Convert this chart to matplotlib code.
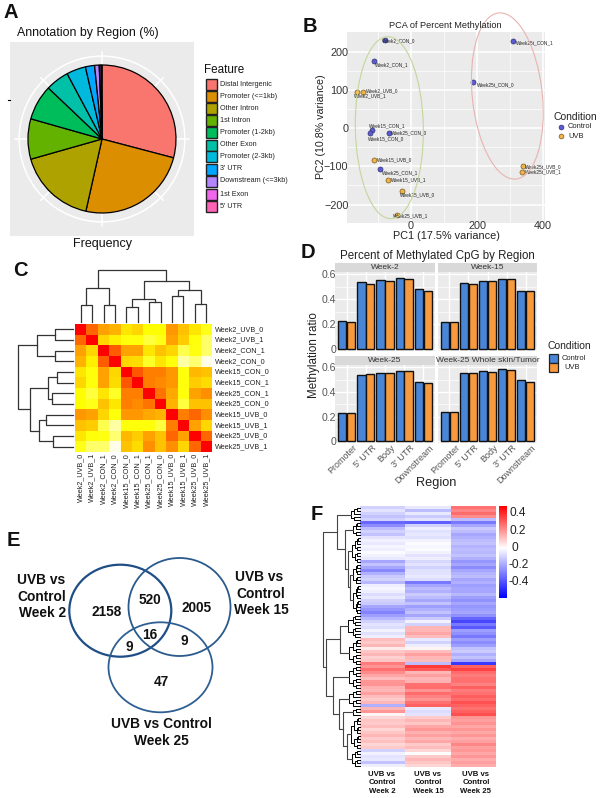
import numpy as np
import matplotlib
matplotlib.use("Agg")
import matplotlib.pyplot as plt
from matplotlib.colors import LinearSegmentedColormap, TwoSlopeNorm
from matplotlib.patches import Ellipse, Rectangle, Circle
from matplotlib.transforms import ScaledTranslation

plt.rcParams['font.family'] = ['Liberation Sans', 'DejaVu Sans']

# ---------------- data ----------------
pie_features = ["Distal Intergenic", "Promoter (<=1kb)", "Other Intron", "1st Intron", "Promoter (1-2kb)",
                "Other Exon", "Promoter (2-3kb)", "3' UTR", "Downstream (<=3kb)", "1st Exon", "5' UTR"]
pie_values = [29.1, 24.4, 17.1, 8.8, 7.7, 5.1, 4.2, 2.0, 1.0, 0.4, 0.2]
pie_colors = ["#F8766D", "#DB8E00", "#AEA200", "#64B200", "#00BD5C", "#00C1A7", "#00BADE", "#00A6FF",
              "#B385FF", "#EF67EB", "#FF63B6"]

pca_control = ["Week2_CON_0", "Week2_CON_1", "Week15_CON_1", "Week15_CON_0", "Week25_CON_0", "Week25_CON_1",
               "Week25t_CON_1", "Week25t_CON_0"]
pca_control_x = [-79, -112, -118, -125, -68, -95, 310, 189]
pca_control_y = [229, 174, -4, -13, -12, -108, 228, 121]
pca_uvb = ["Week2_UVB_0", "Week2_UVB_1", "Week15_UVB_0", "Week15_UVB_1", "Week25_UVB_0", "Week25_UVB_1",
           "Week25t_UVB_0", "Week25t_UVB_1"]
pca_uvb_x = [-145, -165, -111, -69, -27, -43, 339, 336]
pca_uvb_y = [93, 94, -83, -136, -164, -228, -100, -114]

corr_labels = ["Week2_UVB_0", "Week2_UVB_1", "Week2_CON_1", "Week2_CON_0", "Week15_CON_0", "Week15_CON_1",
               "Week25_CON_1", "Week25_CON_0", "Week15_UVB_0", "Week15_UVB_1", "Week25_UVB_0", "Week25_UVB_1"]
corr = [
    [1, .80, .68, .65, .55, .58, .50, .50, .70, .62, .55, .45],
    [.80, 1, .58, .53, .48, .48, .38, .45, .68, .60, .48, .30],
    [.68, .58, 1, .82, .68, .68, .55, .62, .58, .35, .47, .30],
    [.65, .53, .82, 1, .58, .57, .42, .55, .48, .18, .28, .05],
    [.55, .48, .68, .58, 1, .83, .75, .75, .70, .48, .64, .62],
    [.58, .48, .68, .57, .83, 1, .75, .73, .70, .48, .60, .57],
    [.50, .38, .55, .42, .75, .75, 1, .77, .67, .48, .68, .72],
    [.50, .45, .62, .55, .75, .73, .77, 1, .65, .38, .62, .62],
    [.70, .68, .58, .48, .70, .70, .67, .65, 1, .75, .80, .72],
    [.62, .60, .35, .18, .48, .48, .48, .38, .75, 1, .68, .58],
    [.55, .48, .47, .28, .64, .60, .68, .62, .80, .68, 1, .80],
    [.45, .30, .30, .05, .62, .57, .72, .62, .72, .58, .80, 1],
]
# merges: (left, right, height); leaves are ints
corr_tree = (((0, 1, 50), (2, 3, 50), 102),
             (((4, 5, 45), (6, 7, 60), 70), ((8, 9, 77), (10, 11, 55), 95), 122), 155)

regions = ["Promoter", "5' UTR", "Body", "3' UTR", "Downstream"]
facets = ["Week-2", "Week-15", "Week-25", "Week-25 Whole skin/Tumor"]
meth_control = [[.225, .54, .555, .57, .48], [.22, .53, .545, .56, .465],
                [.23, .54, .555, .575, .478], [.235, .555, .57, .585, .495]]
meth_uvb = [[.22, .52, .545, .56, .47], [.22, .525, .55, .565, .465],
            [.23, .545, .553, .575, .47], [.235, .555, .565, .58, .48]]

venn_counts = ["2158", "520", "2005", "16", "9", "9", "47"]

heat_w2 = [-.1, -.06, -.1, -.14, -.1, -.34, -.26, -.15, -.1, -.14, -.06, -.03, -.05, -.02, -.04, -.01, -.03, -.05,
           -.2, -.14, -.2, -.27, -.18, -.12, -.1, -.16, -.04, -.02, -.04, -.08, -.05, -.1, -.12, -.2, -.24, -.28,
           -.22, -.16, -.1, -.06, -.08, -.03, -.07, -.04, .13, .1, .14, .04, .11, .14, .09, .11, .25, .21, .27, .22,
           .17, .13, .2, .21, .15, .14, .18, .13, .1, .14, -.18, .14, .2, .02, .08, .11, .1, .13, .08, .11, .14, .1,
           .12, .08, .1, -.1, -.03, -.06, -.05, -.14, -.04]
heat_w15 = [-.05, -.15, -.05, -.12, -.06, -.36, -.1, -.04, -.07, -.05, -.07, -.03, -.01, -.02, -.01, -.03, -.06, -.04,
            -.09, -.06, -.1, -.07, -.06, -.05, -.08, -.3, -.2, -.15, -.18, -.12, -.15, -.2, -.14, -.22, -.18, -.14,
            -.2, -.12, -.03, -.1, .14, .14, .17, .13, -.05, -.1, -.04, .02, .13, .18, .14, .13, -.15, .38, .32, .14,
            .18, .14, .15, .27, .28, .21, .28, .24, .21, .27, .3, -.05, -.08, -.06, .1, .14, .11, .17, .2, .15, .18,
            .14, .17, .1, .13, .08, .0, .1, .14, .11, .08]
heat_w25 = [.27, .23, .28, .22, -.15, -.3, -.2, -.12, -.15, -.2, -.18, -.15, -.14, -.17, -.15, -.16, -.14, -.18, -.24,
            -.2, -.26, -.2, -.17, -.15, -.2, -.18, -.22, -.2, -.2, -.16, -.22, -.25, -.2, -.24, -.22, -.2, -.25, -.35,
            -.42, -.3, -.38, -.22, -.25, -.3, -.22, -.26, -.22, -.14, -.12, -.18, -.14, -.2, -.45, .3, .36, .28, .25,
            .27, .27, .24, .3, .25, .27, .31, .28, .33, .3, .27, .3, .34, .2, .18, .21, .17, .2, .17, .2, .16, .18,
            .23, .18, .2, .17, .2, .16, .18, .16]
heat_cols = ["UVB vs\nControl\nWeek 2", "UVB vs\nControl\nWeek 15", "UVB vs\nControl\nWeek 25"]
# dendrogram of rows: (distance, child, child) with (first_row, last_row, distance) as a fine cluster
row_tree = (37,
            (23, (0, 4, 9),
             (15, (5, 9, 7), (12, (10, 18, 8), (10, (19, 25, 7), (26, 35, 7))))),
            (34,
             (20, (36, 43, 12), (44, 52, 11)),
             (27, (53, 60, 11),
              (21, (61, 66, 11),
               (17, (67, 69, 7), (13, (70, 80, 9), (81, 86, 8)))))))

# ---------------- layout helpers ----------------
W, H = 600, 798
fig = plt.figure(figsize=(W / 100, H / 100), dpi=100)


def axpx(x0, y0, x1, y1, **kw):
    return fig.add_axes([x0 / W, 1 - y1 / H, (x1 - x0) / W, (y1 - y0) / H], **kw)


ov = axpx(0, 0, W, H, zorder=20)
ov.set_xlim(0, W)
ov.set_ylim(H, 0)
ov.axis('off')
ov.patch.set_alpha(0)


def T(x, y, s, size=8, ha='left', va='center', **kw):
    return ov.text(x, y, s, fontsize=size, ha=ha, va=va, **kw)


for (lx, ly, s) in [(3, 12, "A"), (303, 27, "B"), (13, 270, "C"), (301, 252, "D"), (7, 541, "E"), (311, 515, "F")]:
    T(lx, ly, s, size=14.5, fontweight='bold', color='#111111')

# ---------------- A: pie ----------------
axA = axpx(10, 42, 194, 236)
axA.set_facecolor('#EBEBEB')
for a in np.deg2rad(np.arange(0, 360, 45)):
    axA.plot([0, 1.17 * np.cos(a)], [0, 1.17 * np.sin(a)], color='white', lw=1.1, zorder=0.5)
axA.add_patch(Circle((0, 0), 1.12, fc='none', ec='white', lw=1.1, zorder=0.5))
axA.pie(pie_values, colors=pie_colors, startangle=90, counterclock=False, radius=1.0,
        wedgeprops=dict(edgecolor='black', linewidth=0.9), frame=True)
axA.set_xlim(-92 / 74, 92 / 74)
axA.set_ylim(-97 / 74, 97 / 74)
axA.set_xticks([])
axA.set_yticks([])
for s in axA.spines.values():
    s.set_visible(False)
T(17, 33, "Annotation by Region (%)", size=8.9, color='#111111')
T(102, 244, "Frequency", size=9, ha='center', color='#111111')
T(204, 70, "Feature", size=8.4, color='#111111')
ov.plot([7.5, 9.5], [100, 100], color='black', lw=0.8)
legy = [84, 96, 108.5, 120.7, 132.5, 145, 156.7, 169, 181, 194, 206]
for yy, c, s in zip(legy, pie_colors, pie_features):
    ov.add_patch(Rectangle((206, yy - 5.5), 10.5, 11, fc=c, ec='#222222', lw=1.0))
    T(220.5, yy, s, size=5.2, color='#222222')

# ---------------- B: PCA ----------------
axB = axpx(347, 32, 545, 223)
axB.set_facecolor('#EBEBEB')
axB.set_xlim(-194, 406)
axB.set_ylim(-248, 251)
axB.set_xticks([0, 200, 400])
axB.set_yticks([-200, -100, 0, 100, 200])
axB.set_xticks([-100, 100, 300], minor=True)
axB.set_yticks([-150, -50, 50, 150], minor=True)
axB.grid(True, which='major', color='white', lw=1.1)
axB.grid(True, which='minor', color='white', lw=0.5)
axB.set_axisbelow(True)
for s in axB.spines.values():
    s.set_visible(False)
axB.tick_params(which='both', length=0)
axB.tick_params(axis='both', which='major', labelsize=7.8, labelcolor='#333333')
axB.tick_params(axis='x', pad=-1.5)
axB.tick_params(axis='y', pad=-1)
axB.scatter(pca_control_x, pca_control_y, s=13, c='#5B5BD6', edgecolors='#33336B', linewidths=0.5, zorder=3)
axB.scatter(pca_uvb_x, pca_uvb_y, s=13, c='#F0B548', edgecolors='#7A5A20', linewidths=0.5, zorder=3)
ctrl_off = [(-8, 0), (2, -11), (-9, 12), (-4, -16), (6, 0), (6, -9), (7, -6), (10, -9)]
uvb_off = [(8, 6), (-9, -11), (7, 0), (7, 0), (-5, -12), (-12, 0), (7, 0), (8, -1)]
for names, xs, ys, off in [(pca_control, pca_control_x, pca_control_y, ctrl_off),
                           (pca_uvb, pca_uvb_x, pca_uvb_y, uvb_off)]:
    for n, x, y, o in zip(names, xs, ys, off):
        axB.annotate(n, (x, y), xytext=(o[0] * .24, o[1] * .24), textcoords='offset points', fontsize=3.4,
                     color='#222222', va='center', ha='left', zorder=4)
ov.add_patch(Ellipse((300 + 268 / 3, 383 / 3), 68, 182, angle=-1, fc='none', ec='#C3D69B', lw=0.8))
ov.add_patch(Ellipse((300 + 622 / 3, 288 / 3), 70, 167, angle=-6, fc='none', ec='#E8B4B0', lw=0.8))
T(445, 25, "PCA of Percent Methylation", size=6.6, ha='center', color='#222222')
T(446, 236, "PC1 (17.5% variance)", size=7.8, ha='center', color='#222222')
T(320.5, 127, "PC2 (10.8% variance)", size=7.7, ha='center', rotation=90, color='#222222')
T(553, 117, "Condition", size=7.5, color='#222222')
ov.scatter([561], [127], s=12, c='#5B5BD6', edgecolors='#33336B', linewidths=0.5)
ov.scatter([561], [136], s=12, c='#F0B548', edgecolors='#7A5A20', linewidths=0.5)
T(568, 127, "Control", size=5.4, color='#222222')
T(568, 136, "UVB", size=5.4, color='#222222')

# ---------------- C: correlation heat map ----------------
axC = axpx(75, 324, 212, 452)
heat = LinearSegmentedColormap.from_list('heat', ['#FFFFFF', '#FFFF00', '#FF0000'])
axC.imshow(np.array(corr), cmap=heat, vmin=0, vmax=1, aspect='auto', interpolation='nearest')
axC.axis('off')
n_c = len(corr_labels)
cell_w, cell_h = 137 / n_c, 128 / n_c
for i, lab in enumerate(corr_labels):
    T(214.5, 324 + (i + .5) * cell_h, lab, size=5.2, color='#222222')
    T(75 + (i + .5) * cell_w, 453, lab, size=5.2, rotation=90, ha='center', va='top', color='#222222')


def draw_corr(node, horizontal):
    if isinstance(node, int):
        return node + .5, 0
    a, b, h = node
    pa, ha_ = draw_corr(a, horizontal)
    pb, hb = draw_corr(b, horizontal)
    if horizontal:
        X = lambda p: 75 + p * cell_w
        Y = lambda d: 322 - d * 0.335
        ov.plot([X(pa), X(pa), X(pb), X(pb)], [Y(ha_), Y(h), Y(h), Y(hb)], color='#333333', lw=0.9)
    else:
        Y = lambda p: 324 + p * cell_h
        X = lambda d: 73 - d * 0.355
        ov.plot([X(ha_), X(h), X(h), X(hb)], [Y(pa), Y(pa), Y(pb), Y(pb)], color='#333333', lw=0.9)
    return (pa + pb) / 2, h


draw_corr(corr_tree, True)
draw_corr(corr_tree, False)

# ---------------- D: facets ----------------
xpos = np.arange(len(regions))
cols = [(335, 435), (438, 537)]
rows = [(263, 272, 351), (356, 365, 443)]
for k, fname in enumerate(facets):
    r, c = k // 2, k % 2
    x0, x1 = cols[c]
    s0, y0, y1 = rows[r]
    st = axpx(x0, s0, x1, y0)
    st.set_facecolor('#D9D9D9')
    st.set_xticks([])
    st.set_yticks([])
    for s in st.spines.values():
        s.set_visible(False)
    st.text(.5, .45, fname, transform=st.transAxes, ha='center', va='center', fontsize=6, color='#333333', clip_on=False)
    ax = axpx(x0, y0, x1, y1)
    ax.set_facecolor('#EBEBEB')
    ax.set_xlim(-.6, 4.6)
    ax.set_ylim(-.014, .62)
    ax.grid(True, color='white', lw=1.0)
    ax.set_yticks([.1, .3, .5], minor=True)
    ax.grid(True, which='minor', axis='y', color='white', lw=0.5)
    ax.set_axisbelow(True)
    for s in ax.spines.values():
        s.set_visible(False)
    ax.bar(xpos - .225, meth_control[k], width=.44, color='#4A86D8', edgecolor='#111111', linewidth=1.0)
    ax.bar(xpos + .225, meth_uvb[k], width=.44, color='#F79A3E', edgecolor='#111111', linewidth=1.0)
    ax.set_yticks([0, .2, .4, .6])
    ax.set_xticks(xpos)
    ax.tick_params(which='both', length=0)
    ax.tick_params(axis='y', pad=-1)
    ax.tick_params(axis='x', pad=0)
    if c == 0:
        ax.set_yticklabels(["0", "0.2", "0.4", "0.6"], fontsize=7.6, color='#555555')
    else:
        ax.tick_params(axis='y', which='both', labelleft=False)
    if r == 1:
        ax.set_xticklabels(regions, fontsize=6.5, color='#555555', rotation=45, ha='right', rotation_mode='anchor')
        shift = ScaledTranslation(4 / 72, 0, fig.dpi_scale_trans)
        for lab in ax.get_xticklabels():
            lab.set_transform(lab.get_transform() + shift)
    else:
        ax.tick_params(axis='x', labelbottom=False)
T(437, 256, "Percent of Methylated CpG by Region", size=8.3, ha='center', color='#222222')
T(314, 355, "Methylation ratio", size=8.4, ha='center', rotation=90, color='#222222')
T(436, 483, "Region", size=9.2, ha='center', color='#222222')
T(547, 346, "Condition", size=7.5, color='#222222')
ov.add_patch(Rectangle((549, 354), 9, 9, fc='#4A86D8', ec='#222222', lw=0.9))
ov.add_patch(Rectangle((549, 363), 9, 9, fc='#F79A3E', ec='#222222', lw=0.9))
T(562, 358.5, "Control", size=5.4, color='#222222')
T(564, 367.5, "UVB", size=5.4, color='#222222')

# ---------------- E: Venn ----------------
ov.add_patch(Ellipse((120.3, 610.7), 102, 92, fc='none', ec='#1F4E86', lw=1.6))
ov.add_patch(Ellipse((179.5, 607), 102, 98, fc='none', ec='#2A5A8C', lw=1.3))
ov.add_patch(Ellipse((160.5, 667.3), 104, 90, fc='none', ec='#2F5F92', lw=1.3))
venn_xy = [(107, 612), (150, 600), (197, 608), (150, 635), (129, 647), (184, 641), (161, 682)]
for (x, y), s in zip(venn_xy, venn_counts):
    T(x, y, s, size=9.8, ha='center', fontweight='bold', color='#111111')
for x, y, s in [(41, 580, "UVB vs"), (42, 597, "Control"), (43, 613, "Week 2"),
                (259, 577, "UVB vs"), (261, 594, "Control"), (261, 610, "Week 15"),
                (161, 724, "UVB vs Control"), (161, 741, "Week 25")]:
    T(x, y, s, size=9.9, ha='center', fontweight='bold', color='#111111')

# ---------------- F: heat map ----------------
axF = axpx(360, 506, 496, 767)
mat = np.array([heat_w2, heat_w15, heat_w25]).T
bwr = LinearSegmentedColormap.from_list('bwr2', ['#0000FF', '#FFFFFF', '#FF0000'])
norm = TwoSlopeNorm(vmin=-.58, vcenter=0, vmax=.49)
axF.imshow(mat, cmap=bwr, norm=norm, aspect='auto', interpolation='nearest')
axF.axis('off')
axCB = axpx(499, 506, 507, 598)
grad = np.linspace(.49, -.58, 200)[:, None]
axCB.imshow(grad, cmap=bwr, norm=norm, aspect='auto', extent=[0, 1, -.58, .49])
axCB.set_xticks([])
axCB.set_yticks([])
for s in axCB.spines.values():
    s.set_visible(False)
for x, y, s in [(518, 513, "0.4"), (518, 531, "0.2"), (515, 548, "0"), (519, 565, "-0.2"), (519, 582, "-0.4")]:
    T(x, y, s, size=8.6, ha='center', color='#222222')
for x, s in zip([382, 428, 476], heat_cols):
    T(x, 783, s, size=5.6, ha='center', fontweight='bold', color='#111111', linespacing=1.35)

row_h = 261 / len(heat_w2)


def fine(a, b, d):
    yc = 506 + (a + b + 1) / 2 * row_h
    if a == b:
        ov.plot([360 - d, 360], [yc, yc], color='black', lw=0.7)
        return yc
    m = (a + b) // 2
    dd = d * 0.62
    y1 = fine(a, m, dd)
    y2 = fine(m + 1, b, dd)
    ov.plot([360 - dd, 360 - d, 360 - d, 360 - dd], [y1, y1, y2, y2], color='black', lw=0.7)
    return (y1 + y2) / 2


def tree(node):
    if len(node) == 3 and not isinstance(node[1], tuple):
        return fine(*node), node[2]
    d, a, b = node
    y1, d1 = tree(a)
    y2, d2 = tree(b)
    ov.plot([360 - d1, 360 - d, 360 - d, 360 - d2], [y1, y1, y2, y2], color='#444444', lw=0.8)
    return (y1 + y2) / 2, d


tree(row_tree)

fig.savefig('out.png', dpi=100)
